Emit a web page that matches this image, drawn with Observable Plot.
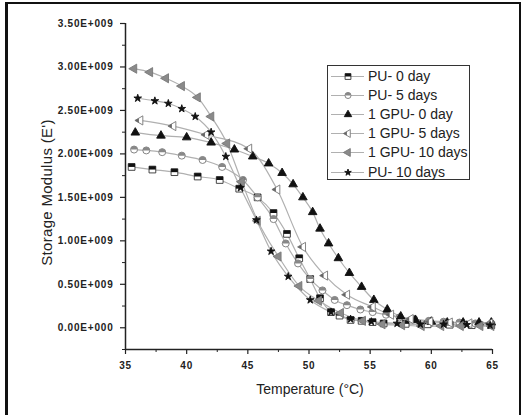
<!DOCTYPE html>
<html><head><meta charset="utf-8">
<script src="https://cdn.jsdelivr.net/npm/d3@7"></script>
<script src="https://cdn.jsdelivr.net/npm/@observablehq/plot@0.6"></script>
<style>
html,body{margin:0;padding:0;background:#fff;}
#wrap{position:relative;width:524px;height:415px;overflow:hidden;font-family:"Liberation Sans",Arial,sans-serif;}
#chart{position:absolute;left:0;top:0;}
#frame{position:absolute;left:5px;top:2px;width:511px;height:430px;border-left:3px solid #111;border-top:2px solid #111;border-right:2px solid #111;pointer-events:none;}
#legend{position:absolute;left:327px;top:65px;width:141px;height:113px;border:1.5px solid #333;background:#fff;}
.lrow{position:absolute;left:0;height:19px;width:141px;}
.lrow svg{position:absolute;left:0;top:0;}
.lrow span{position:absolute;left:40px;top:1px;font-size:14px;color:#222;white-space:nowrap;line-height:17px;}
#xlab{position:absolute;left:200px;width:220px;text-align:center;top:381px;font-size:14px;color:#222;}
#ylab{position:absolute;left:-54px;top:184px;width:200px;text-align:center;font-size:15px;color:#222;transform:rotate(-90deg);letter-spacing:0.3px;}
</style></head>
<body>
<div id="wrap"><div id="chart"></div><div id="frame"></div><div id="legend"></div>
<div id="xlab">Temperature (°C)</div><div id="ylab">Storage Modulus (E')</div></div>
<script>
// ---- data (temperature °C, storage modulus in units of 1E+009 Pa) ----
const seriesNames = ["PU- 0 day","PU- 5 days","1 GPU- 0 day","1 GPU- 5 days","1 GPU- 10 days","PU- 10 days"];

const tPU0  = [35.5,37.2,39.0,40.9,42.7,44.3,45.8,47.1,48.2,49.2,50.1,50.9,51.8,52.5,53.4,54.3,55.2,56.1,57.9,59.7,61.5,63.3,64.9];
const ePU0  = [1.85,1.82,1.79,1.74,1.70,1.60,1.50,1.32,1.08,0.80,0.56,0.34,0.18,0.14,0.09,0.08,0.065,0.05,0.045,0.04,0.035,0.03,0.03];

const tPU5  = [35.7,36.7,38.0,39.6,41.3,42.9,44.6,45.8,47.1,48.1,49.1,50.1,51.1,52.1,53.1,54.2,55.2,56.3,57.4,58.6,59.8,61.0,62.3,63.6,64.9];
const ePU5  = [2.05,2.04,2.02,1.98,1.93,1.85,1.70,1.50,1.25,0.97,0.74,0.56,0.43,0.32,0.26,0.21,0.18,0.15,0.12,0.10,0.08,0.07,0.06,0.05,0.05];

const tG0   = [35.8,37.9,40.0,42.0,43.9,45.4,46.7,47.8,48.7,49.5,50.3,50.9,51.6,52.4,53.3,54.3,55.3,56.4,57.5,58.7,60.0,61.3,62.6,63.9,64.9];
const eG0   = [2.245,2.21,2.19,2.13,2.05,1.97,1.89,1.78,1.65,1.50,1.33,1.14,0.97,0.80,0.63,0.47,0.32,0.21,0.13,0.09,0.07,0.06,0.06,0.06,0.06];

const tG5   = [36.2,38.9,41.6,45.1,47.4,49.5,51.3,53.1,55.2,56.7,58.3,59.9,61.5,63.1,64.8];
const eG5   = [2.385,2.32,2.22,2.06,1.59,0.93,0.60,0.38,0.24,0.15,0.10,0.07,0.06,0.05,0.05];

const tG10  = [35.7,37.0,38.3,39.6,40.9,42.0,43.3,44.5,45.8,47.5,49.2,50.8,52.6,54.4,56.0,57.6,59.2,60.8,62.4,64.0,64.9];
const eG10  = [2.98,2.94,2.87,2.78,2.65,2.43,2.12,1.68,1.23,0.82,0.48,0.31,0.17,0.08,0.04,0.03,0.02,0.02,0.02,0.02,0.02];

const tPU10 = [36.0,37.4,38.5,39.6,40.7,42.0,43.2,44.4,45.7,46.9,48.3,50.1,51.8,53.4,55.1,57.2,59.1,61.0,62.9,64.8];
const ePU10 = [2.64,2.61,2.58,2.52,2.43,2.25,1.97,1.61,1.24,0.88,0.59,0.32,0.18,0.10,0.07,0.05,0.04,0.04,0.035,0.03];

const xTicks = [35,40,45,50,55,60,65];
const xMinor = [37.5,42.5,47.5,52.5,57.5,62.5];
const yTicks = [0,0.5,1.0,1.5,2.0,2.5,3.0,3.5];
const yMinor = [-0.25,0.25,0.75,1.25,1.75,2.25,2.75,3.25];
const xDomain = [35,65];
const yDomain = [-0.25,3.5];

// ---- custom symbols ----
const halfSquareTop = {draw(c,size){const s=Math.sqrt(size);c.moveTo(-s/2,-s/2);c.lineTo(s/2,-s/2);c.lineTo(s/2,0);c.lineTo(-s/2,0);c.closePath();}};
const halfCircleTop = {draw(c,size){const r=Math.sqrt(size/Math.PI);c.moveTo(-r,0);c.arc(0,0,r,Math.PI,2*Math.PI);c.closePath();}};
function triPts(size){const a=Math.sqrt(size*4/Math.sqrt(3));const h=a*Math.sqrt(3)/2;return {a,h};}
const triLeft = {draw(c,size){const {a,h}=triPts(size);c.moveTo(-2*h/3,0);c.lineTo(h/3,-a/2);c.lineTo(h/3,a/2);c.closePath();}};
const triLeftHalf = {draw(c,size){const {a,h}=triPts(size);const xm=-h/6;const yy=a/2*(xm+2*h/3)/h;c.moveTo(-2*h/3,0);c.lineTo(xm,-yy);c.lineTo(xm,yy);c.closePath();}};

const styles = [
  {t:tPU0, e:ePU0, layers:[{symbol:"square",fill:"white",stroke:"#333",r:3.8},{symbol:halfSquareTop,fill:"#111",stroke:"none",r:3.8}]},
  {t:tPU5, e:ePU5, layers:[{symbol:"circle",fill:"white",stroke:"#777",r:3.5},{symbol:halfCircleTop,fill:"#888",stroke:"none",r:3.5}]},
  {t:tG0,  e:eG0,  layers:[{symbol:"triangle",fill:"#111",stroke:"#111",r:3.2}]},
  {t:tG5,  e:eG5,  layers:[{symbol:triLeft,fill:"white",stroke:"#777",r:3.4},{symbol:triLeftHalf,fill:"#666",stroke:"none",r:3.4}]},
  {t:tG10, e:eG10, layers:[{symbol:triLeft,fill:"#8a8a8a",stroke:"#777",r:3.4}]},
  {t:tPU10,e:ePU10,layers:[{symbol:"star",fill:"#111",stroke:"#111",r:2.4}]}
];

const rows = styles.flatMap((s,k)=>s.t.map((t,i)=>({series:seriesNames[k], t, e:s.e[i]})));

const fmt = d => (d<0?"":(d.toFixed(2)+(d===0?"E+000":"E+009")));

const marks = [
  Plot.ruleY([yDomain[0]],{stroke:"#222",strokeWidth:1.5}),
  Plot.ruleX([xDomain[0]],{stroke:"#222",strokeWidth:1.5}),
  Plot.axisY({ticks:yTicks, tickSize:5, tickPadding:7, tickFormat:fmt, label:null, stroke:"#222", strokeWidth:1.2}),
  Plot.axisY({ticks:yMinor, tickSize:3, tickFormat:()=>"", label:null, stroke:"#222"}),
  Plot.axisX({ticks:xTicks, tickSize:5, tickPadding:7, tickFormat:d=>String(d), label:null, stroke:"#222", strokeWidth:1.2}),
  Plot.axisX({ticks:xMinor, tickSize:3, tickFormat:()=>"", label:null, stroke:"#222"}),
  Plot.line(rows,{x:"t",y:"e",z:"series",stroke:"#b0b0b0",strokeWidth:1.2,curve:"monotone-x"})
];
styles.forEach((s,k)=>{
  const data = rows.filter(r=>r.series===seriesNames[k]);
  s.layers.forEach(L=>marks.push(Plot.dot(data,{x:"t",y:"e",symbol:()=>L.symbol,r:L.r,fill:L.fill,stroke:L.stroke,strokeWidth:0.9})));
});

const svg = Plot.plot({
  width:524, height:415,
  marginLeft:125, marginRight:32, marginTop:23, marginBottom:66,
  x:{domain:xDomain}, y:{domain:yDomain},
  symbol:{type:"identity"},
  style:{fontFamily:"'Liberation Sans',Arial,sans-serif",background:"transparent"},
  marks
});
document.getElementById("chart").appendChild(svg);
d3.select(svg).selectAll('g[aria-label="y-axis tick label"] text, g[aria-label="x-axis tick label"] text')
  .attr("font-weight","bold").attr("font-size",10).attr("fill","#222").style("letter-spacing","0.8px");

// ---- legend ----
const leg = document.getElementById("legend");
styles.forEach((s,k)=>{
  const row = document.createElement("div");
  row.className="lrow"; row.style.top=(1+k*19.1)+"px";
  const ns="http://www.w3.org/2000/svg";
  const sv=document.createElementNS(ns,"svg"); sv.setAttribute("width",38); sv.setAttribute("height",19);
  const ln=document.createElementNS(ns,"line");
  ln.setAttribute("x1",3);ln.setAttribute("x2",36);ln.setAttribute("y1",9.5);ln.setAttribute("y2",9.5);
  ln.setAttribute("stroke","#b0b0b0");ln.setAttribute("stroke-width",1.2);sv.appendChild(ln);
  s.layers.forEach(L=>{
    const typ = typeof L.symbol==="string" ? ({square:d3.symbolSquare,circle:d3.symbolCircle,triangle:d3.symbolTriangle,star:d3.symbolStar})[L.symbol] : L.symbol;
    const p=document.createElementNS(ns,"path");
    p.setAttribute("d",d3.symbol(typ, Math.PI*L.r*L.r*0.75)());
    p.setAttribute("transform","translate(20,9.5)");
    p.setAttribute("fill",L.fill);p.setAttribute("stroke",L.stroke);p.setAttribute("stroke-width",0.9);
    sv.appendChild(p);
  });
  row.appendChild(sv);
  const sp=document.createElement("span"); sp.textContent=seriesNames[k]; row.appendChild(sp);
  leg.appendChild(row);
});
</script>
</body></html>
